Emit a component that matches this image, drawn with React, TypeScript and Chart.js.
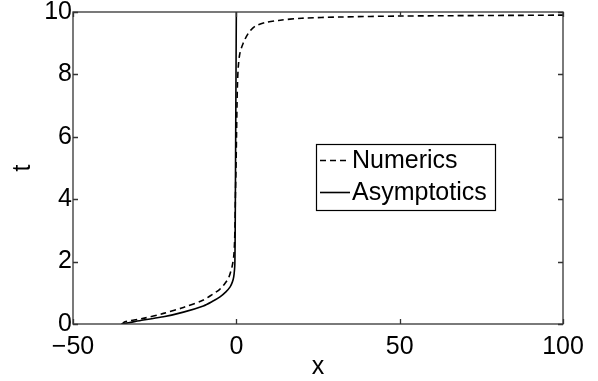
import { useEffect, useRef } from "react";
import Chart from "chart.js/auto";

const xTicks = [-50, 0, 50, 100];
const yTicks = [0, 2, 4, 6, 8, 10];

const seriesLabels = ["Numerics", "Asymptotics"];

const numericsT = [0, 0.07, 0.18, 0.34, 0.53, 0.77, 0.95, 1.12, 1.3, 1.47, 1.65, 1.84, 2.16, 2.6, 3.2, 4.0, 5.0, 6.0, 7.0, 7.7, 8.25, 8.68, 9.0, 9.32, 9.54, 9.66, 9.73, 9.8, 9.84, 9.87, 9.9];
const numericsX = [-35.0, -34.1, -28.5, -22.3, -16.2, -10.1, -7.3, -5.0, -3.5, -2.4, -1.8, -1.3, -0.8, -0.55, -0.4, -0.3, -0.1, 0.05, 0.2, 0.35, 0.6, 1.1, 2.1, 3.7, 5.7, 8.8, 12.9, 20.0, 32.0, 50.0, 100.0];

const asymptoticsT = [0, 0.04, 0.13, 0.23, 0.38, 0.58, 0.72, 0.87, 1.03, 1.19, 1.35, 1.51, 1.75, 1.95, 2.4, 3.0, 4.0, 6.0, 8.0, 10.0];
const asymptoticsX = [-35.2, -33.0, -28.5, -22.3, -16.2, -10.1, -7.4, -5.0, -3.2, -1.9, -1.2, -0.8, -0.55, -0.45, -0.4, -0.35, -0.3, -0.2, -0.1, 0.0];

const FONT = "'Liberation Sans', Arial, Helvetica, sans-serif";

export default function App() {
  const ref = useRef<HTMLCanvasElement>(null);

  useEffect(() => {
    document.body.style.margin = "0";
    const canvas = ref.current;
    if (!canvas) return;

    const boxPlugin = {
      id: "matlabBox",
      afterDatasetsDraw(chart: any) {
        const { ctx, chartArea: a, scales } = chart;
        ctx.save();
        ctx.strokeStyle = "#333";
        ctx.lineWidth = 1.3;
        ctx.strokeRect(a.left, a.top, a.right - a.left, a.bottom - a.top);
        const tl = 5;
        ctx.beginPath();
        for (const v of xTicks) {
          const px = Math.round(scales.x.getPixelForValue(v)) + 0.5;
          ctx.moveTo(px, a.bottom);
          ctx.lineTo(px, a.bottom - tl);
          ctx.moveTo(px, a.top);
          ctx.lineTo(px, a.top + tl);
        }
        for (const v of yTicks) {
          const py = Math.round(scales.y.getPixelForValue(v)) + 0.5;
          ctx.moveTo(a.left, py);
          ctx.lineTo(a.left + tl, py);
          ctx.moveTo(a.right, py);
          ctx.lineTo(a.right - tl, py);
        }
        ctx.stroke();

        // legend box
        const lx = a.left + 243;
        const ly = a.top + 132;
        const lw = 179;
        const lh = 66;
        ctx.fillStyle = "#fff";
        ctx.fillRect(lx, ly, lw, lh);
        ctx.strokeStyle = "#000";
        ctx.lineWidth = 1.2;
        ctx.strokeRect(lx + 0.5, ly + 0.5, lw, lh);
        const rows = [17.5, 49.5];
        chart.data.datasets.forEach((ds: any, i: number) => {
          const y = ly + rows[i];
          ctx.save();
          ctx.strokeStyle = ds.borderColor;
          ctx.lineWidth = ds.borderWidth;
          ctx.setLineDash(ds.borderDash || []);
          ctx.beginPath();
          ctx.moveTo(lx + 4, y - 1);
          ctx.lineTo(lx + 34, y - 1);
          ctx.stroke();
          ctx.restore();
          ctx.fillStyle = "#000";
          ctx.font = `25px ${FONT}`;
          ctx.textBaseline = "middle";
          ctx.textAlign = "left";
          ctx.fillText(ds.label, lx + 36, y);
        });
        ctx.restore();
      },
    };

    const chart = new Chart(canvas, {
      type: "scatter",
      data: {
        datasets: [
          {
            label: seriesLabels[0],
            data: numericsX.map((x, i) => ({ x, y: numericsT[i] })),
            showLine: true,
            borderColor: "#000",
            borderWidth: 1.6,
            borderDash: [6, 4],
            pointRadius: 0,
            tension: 0.3,
          },
          {
            label: seriesLabels[1],
            data: asymptoticsX.map((x, i) => ({ x, y: asymptoticsT[i] })),
            showLine: true,
            borderColor: "#000",
            borderWidth: 1.6,
            pointRadius: 0,
            tension: 0.3,
          },
        ],
      },
      options: {
        responsive: false,
        animation: false,
        devicePixelRatio: 1,
        layout: { padding: { top: 12, right: 35, left: 0, bottom: 0 } },
        plugins: { legend: { display: false }, tooltip: { enabled: false } },
        scales: {
          x: {
            type: "linear",
            min: -50,
            max: 100,
            grid: { display: false, drawTicks: false },
            border: { display: false },
            afterBuildTicks: (s: any) => {
              s.ticks = xTicks.map((v) => ({ value: v }));
            },
            afterFit: (s: any) => {
              s.height = 57;
              s.paddingLeft = 0;
              s.paddingRight = 0;
            },
            ticks: {
              color: "#000",
              padding: 8,
              maxRotation: 0,
              autoSkip: false,
              font: { family: FONT, size: 25 },
              callback: (v: any) => (Number(v) < 0 ? "\u2212" + Math.abs(Number(v)) : String(v)),
            },
            title: {
              display: true,
              text: "x",
              color: "#000",
              font: { family: FONT, size: 25 },
              padding: { top: 0, bottom: -1 },
            },
          },
          y: {
            type: "linear",
            min: 0,
            max: 10,
            grid: { display: false, drawTicks: false },
            border: { display: false },
            afterBuildTicks: (s: any) => {
              s.ticks = yTicks.map((v) => ({ value: v }));
            },
            afterFit: (s: any) => {
              s.width = 73;
              s.paddingTop = 0;
              s.paddingBottom = 0;
            },
            ticks: {
              color: "#000",
              padding: 1,
              autoSkip: false,
              font: { family: FONT, size: 25 },
            },
            title: {
              display: true,
              text: "t",
              color: "#000",
              font: { family: FONT, size: 25 },
              padding: { top: 8, bottom: 0 },
            },
          },
        },
      },
      plugins: [boxPlugin],
    } as any);

    return () => chart.destroy();
  }, []);

  return (
    <div style={{ position: "absolute", left: 0, top: 0, width: 598, height: 381, background: "#fff" }}>
      <canvas ref={ref} width={598} height={381} style={{ display: "block" }} />
    </div>
  );
}
